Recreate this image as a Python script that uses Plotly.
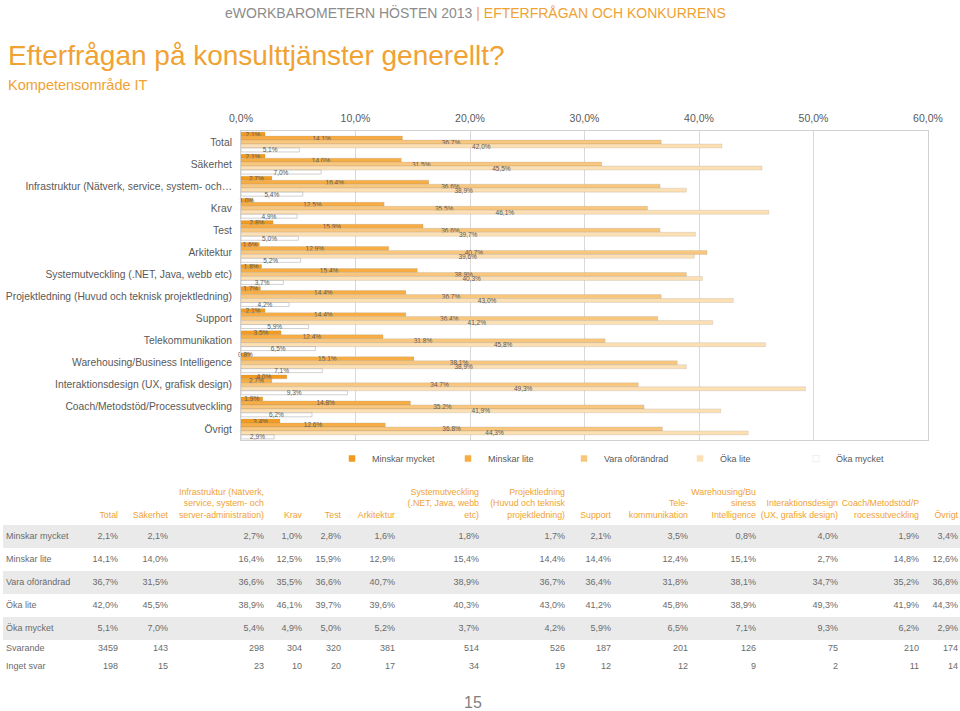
import plotly.graph_objects as go

# ---------------- data ----------------
categories = [
    "Total", "Säkerhet", "Infrastruktur (Nätverk, service, system- och…", "Krav", "Test",
    "Arkitektur", "Systemutveckling (.NET, Java, webb etc)",
    "Projektledning (Huvud och teknisk projektledning)", "Support", "Telekommunikation",
    "Warehousing/Business Intelligence", "Interaktionsdesign (UX, grafisk design)",
    "Coach/Metodstöd/Processutveckling", "Övrigt",
]
series_names = ["Minskar mycket", "Minskar lite", "Vara oförändrad", "Öka lite", "Öka mycket"]
minskar_mycket = [2.1, 2.1, 2.7, 1.0, 2.8, 1.6, 1.8, 1.7, 2.1, 3.5, 0.8, 4.0, 1.9, 3.4]
minskar_lite = [14.1, 14.0, 16.4, 12.5, 15.9, 12.9, 15.4, 14.4, 14.4, 12.4, 15.1, 2.7, 14.8, 12.6]
vara_oforandrad = [36.7, 31.5, 36.6, 35.5, 36.6, 40.7, 38.9, 36.7, 36.4, 31.8, 38.1, 34.7, 35.2, 36.8]
oka_lite = [42.0, 45.5, 38.9, 46.1, 39.7, 39.6, 40.3, 43.0, 41.2, 45.8, 38.9, 49.3, 41.9, 44.3]
oka_mycket = [5.1, 7.0, 5.4, 4.9, 5.0, 5.2, 3.7, 4.2, 5.9, 6.5, 7.1, 9.3, 6.2, 2.9]
svarande = [3459, 143, 298, 304, 320, 381, 514, 526, 187, 201, 126, 75, 210, 174]
inget_svar = [198, 15, 23, 10, 20, 17, 34, 19, 12, 12, 9, 2, 11, 14]
count_row_names = ["Svarande", "Inget svar"]
table_headers = [
    "Total", "Säkerhet", "Infrastruktur (Nätverk,<br>service, system- och<br>server-administration)",
    "Krav", "Test", "Arkitektur", "Systemutveckling<br>(.NET, Java, webb<br>etc)",
    "Projektledning<br>(Huvud och teknisk<br>projektledning)", "Support", "Tele-<br>kommunikation",
    "Warehousing/Bu<br>siness<br>Intelligence", "Interaktionsdesign<br>(UX, grafisk design)",
    "Coach/Metodstöd/P<br>rocessutveckling", "Övrigt",
]
x_tick_values = [0, 10, 20, 30, 40, 50, 60]

series_values = [minskar_mycket, minskar_lite, vara_oforandrad, oka_lite, oka_mycket]

# ---------------- style / layout constants ----------------
W, H = 960, 711
FONT = "Liberation Sans, Arial, sans-serif"
ORANGE = "#F0A232"
GRAY_TXT = "#595959"
TBL_TXT = "#6B6B6B"
BAND = "#EAEAEA"
bar_colors = ["#F39B1F", "#F7AD43", "#F9C67D", "#FCDFB3", "#FFFFFF"]
bar_lines = ["rgba(140,140,140,0.25)"] * 4 + ["rgba(150,150,150,0.55)"]

# table geometry (pixel units of the table axes)
col_right = [118, 168, 264, 302, 341, 395, 479, 565, 611, 688, 756, 838, 919, 958]
label_left = 6
header_base = 520
pct_row_top, pct_row_h = 525, 23
count_row_top, count_row_h = 640, 18


def px_x(p):
    return p / W


def px_y(p):
    return 1 - p / H


def pct(v):
    return f"{v:.1f}".replace(".", ",") + "%"


fig = go.Figure()

# ---------------- bar chart ----------------
for name, vals, col, lc in zip(series_names, series_values, bar_colors, bar_lines):
    fig.add_trace(go.Bar(
        orientation="h", y=categories, x=vals, name=name, legendgroup=name,
        showlegend=False,
        marker=dict(color=col, line=dict(color=lc, width=0.8)),
        text=[pct(v) for v in vals], textposition="inside", insidetextanchor="middle",
        textangle=0, constraintext="none", cliponaxis=False,
        insidetextfont=dict(family=FONT, size=6.5, color=GRAY_TXT),
        hoverinfo="x+y+name",
    ))
    fig.add_trace(go.Scatter(
        x=[None], y=[None], mode="markers", name=name, legendgroup=name,
        marker=dict(symbol="square", size=6, color=col,
                    line=dict(color="#DDDDDD" if col == "#FFFFFF" else col, width=0.5)),
        showlegend=True, hoverinfo="skip",
    ))

# ---------------- data table (text traces on a pixel-scaled axis pair) ----------------
tbl = dict(xaxis="x2", yaxis="y2", mode="text", showlegend=False, hoverinfo="skip",
           marker=dict(size=1))

fig.add_trace(go.Scatter(
    x=col_right, y=[header_base] * len(col_right), text=table_headers,
    textposition="top left", textfont=dict(family=FONT, size=8.8, color=ORANGE), **tbl))

pct_centers = [pct_row_top + pct_row_h * (i + 0.5) for i in range(len(series_names))]
count_centers = [count_row_top + count_row_h * (i + 0.5) for i in range(len(count_row_names))]

fig.add_trace(go.Scatter(
    x=[label_left] * (len(series_names) + len(count_row_names)),
    y=pct_centers + count_centers, text=series_names + count_row_names,
    textposition="middle right", textfont=dict(family=FONT, size=9, color=TBL_TXT), **tbl))

for r, vals in enumerate(series_values):
    fig.add_trace(go.Scatter(
        x=col_right, y=[pct_centers[r]] * len(vals), text=[pct(v) for v in vals],
        textposition="middle left", textfont=dict(family=FONT, size=9, color=TBL_TXT), **tbl))
for r, vals in enumerate([svarande, inget_svar]):
    fig.add_trace(go.Scatter(
        x=col_right, y=[count_centers[r]] * len(vals), text=[str(v) for v in vals],
        textposition="middle left", textfont=dict(family=FONT, size=9, color=TBL_TXT), **tbl))

band_shapes = [
    dict(type="rect", xref="x2", yref="y2", x0=3, x1=W,
         y0=pct_row_top + pct_row_h * i, y1=pct_row_top + pct_row_h * (i + 1),
         fillcolor=BAND, line=dict(width=0), layer="below")
    for i in range(0, len(series_names), 2)
]

# ---------------- layout ----------------
fig.update_layout(
    template="none",
    width=W, height=H,
    margin=dict(l=0, r=0, t=0, b=0),
    paper_bgcolor="white", plot_bgcolor="rgba(0,0,0,0)",
    font=dict(family=FONT, color=GRAY_TXT),
    barmode="group", bargap=0.1, bargroupgap=0.0,
    showlegend=True,
    legend=dict(orientation="h", x=px_x(332), y=px_y(444), xanchor="left", yanchor="top",
                entrywidth=71, entrywidthmode="pixels",
                font=dict(family=FONT, size=9, color=GRAY_TXT), bgcolor="rgba(0,0,0,0)"),
    xaxis=dict(domain=[px_x(241), px_x(928)], range=[0, 60], side="top",
               tickmode="array", tickvals=x_tick_values, ticktext=[pct(v) for v in x_tick_values],
               showgrid=True, gridcolor="#D9D9D9", gridwidth=1, zeroline=False,
               showline=True, linecolor="#D0D0D0", mirror=True, ticks="",
               tickfont=dict(family=FONT, size=10.5, color=GRAY_TXT),
               ticklabelstandoff=4, automargin=False, fixedrange=True, anchor="y"),
    yaxis=dict(domain=[px_y(440), px_y(131)], type="category", categoryorder="array",
               categoryarray=categories, autorange="reversed",
               showgrid=False, showline=True, linecolor="#D0D0D0", mirror=True, ticks="",
               tickfont=dict(family=FONT, size=10.3, color=GRAY_TXT),
               ticklabelstandoff=6, automargin=False, fixedrange=True, anchor="x"),
    xaxis2=dict(domain=[0, 1], range=[0, W], visible=False, fixedrange=True, anchor="y2"),
    yaxis2=dict(domain=[0, px_y(470)], range=[H, 470], visible=False, fixedrange=True,
                anchor="x2"),
    shapes=band_shapes,
    annotations=[
        dict(x=px_x(475), y=px_y(12), xref="paper", yref="paper", showarrow=False,
             xanchor="center", yanchor="middle",
             text='<span style="color:#8C8C8C">eWORKBAROMETERN HÖSTEN 2013 </span>'
                  '<span style="color:' + ORANGE + '">| EFTERFRÅGAN OCH KONKURRENS</span>',
             font=dict(family=FONT, size=14)),
        dict(x=px_x(6), y=px_y(55), xref="paper", yref="paper", showarrow=False,
             xanchor="left", yanchor="middle", text="Efterfrågan på konsulttjänster generellt?",
             font=dict(family=FONT, size=28, color=ORANGE)),
        dict(x=px_x(6), y=px_y(85), xref="paper", yref="paper", showarrow=False,
             xanchor="left", yanchor="middle", text="Kompetensområde IT",
             font=dict(family=FONT, size=14.5, color=ORANGE)),
        dict(x=px_x(473), y=px_y(702), xref="paper", yref="paper", showarrow=False,
             xanchor="center", yanchor="middle", text="15",
             font=dict(family=FONT, size=16, color="#7F7F7F")),
    ],
)

fig.write_html(
    "out.html",
    config={"displayModeBar": False},
    post_script="document.body.style.margin='0px';document.body.style.overflow='hidden';",
)
